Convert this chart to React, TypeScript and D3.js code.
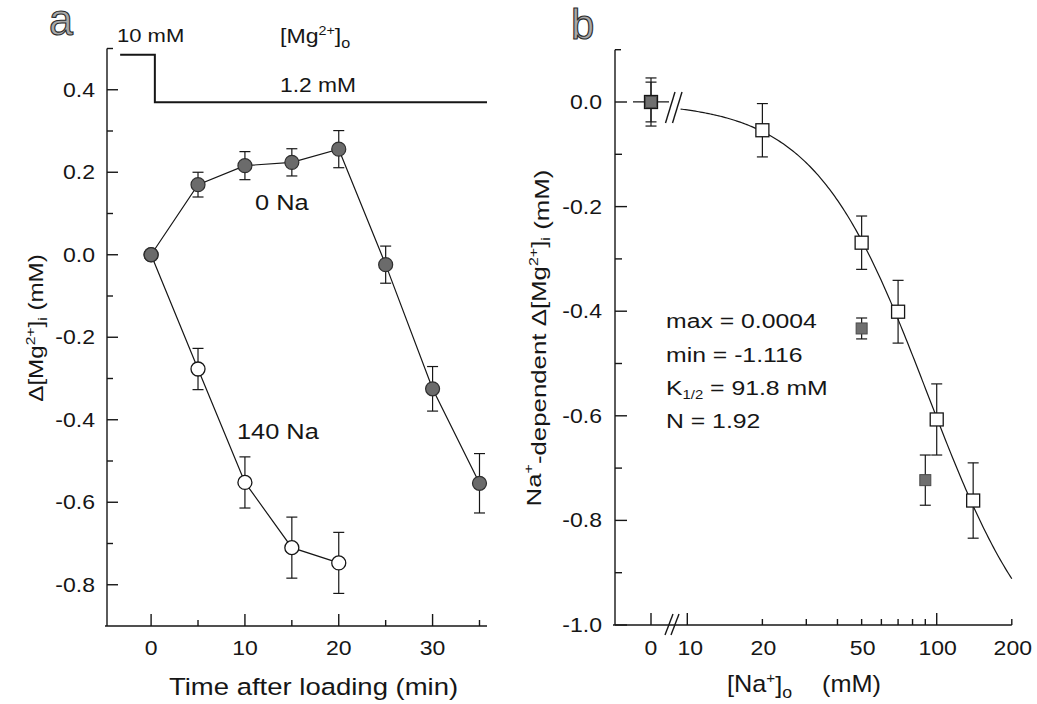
import React from "react";
import * as d3 from "d3";

// ---------- Panel a data ----------
const timeZeroNa = [0, 5, 10, 15, 20, 25, 30, 35];
const mgZeroNa = [0, 0.17, 0.216, 0.224, 0.256, -0.024, -0.325, -0.554];
const errZeroNa = [0, 0.03, 0.034, 0.033, 0.045, 0.045, 0.054, 0.072];
const time140Na = [0, 5, 10, 15, 20];
const mg140Na = [0, -0.277, -0.552, -0.71, -0.747];
const err140Na = [0, 0.05, 0.062, 0.074, 0.074];
const mgTraceTime = [-3.3, 0.4, 0.4, 35.8];
const mgTraceLevel = [0.485, 0.485, 0.37, 0.37];
const aYTicks = [0.4, 0.2, 0.0, -0.2, -0.4, -0.6, -0.8];
const aYMinor = [0.3, 0.1, -0.1, -0.3, -0.5, -0.7];
const aXTicks = [0, 10, 20, 30];
const aXMinor = [5, 15, 25, 35];

// ---------- Panel b data ----------
const naOpen = [0, 20, 50, 70, 100, 140];
const mgOpen = [0.0, -0.054, -0.269, -0.401, -0.607, -0.762];
const errOpen = [0.038, 0.051, 0.051, 0.06, 0.068, 0.072];
const naFilled = [0, 50, 90];
const mgFilled = [0.0, -0.433, -0.723];
const errFilled = [0.046, 0.02, 0.048];
const fitMax = 0.0004;
const fitMin = -1.116;
const fitK = 91.8;
const fitN = 1.92;
const bYTicks = [0.0, -0.2, -0.4, -0.6, -0.8, -1.0];
const bYMinor = [-0.1, -0.3, -0.5, -0.7, -0.9];
const bXMajor = [10, 100];
const bXMinor = [20, 30, 40, 50, 60, 70, 80, 90, 200];
const bXLabels = [10, 20, 50, 100, 200];

const FONT = "'Liberation Sans', Arial, Helvetica, sans-serif";
const INK = "#161616";

function Txt({ x, y, size, sx = 1.18, anchor = "start", rot = 0, children, fill = INK, stroke, sw }: any) {
  return (
    <g transform={`translate(${x},${y}) rotate(${rot}) scale(${sx},1)`}>
      <text fontSize={size} textAnchor={anchor} fill={fill} stroke={stroke} strokeWidth={sw} fontFamily={FONT}>
        {children}
      </text>
    </g>
  );
}

export default function App() {
  // panel a scales
  const xa = d3.scaleLinear().domain([-4.7, 35.8]).range([107, 487]);
  const ya = d3.scaleLinear().domain([-0.9, 0.5]).range([626, 48.5]);
  // panel b scales
  const xbLog = d3.scaleLog().domain([10, 200]).range([687.3, 1011.8]);
  const xbZero = d3.scaleLinear().domain([-5, 5]).range([633, 669]);
  const xb = (v: number) => (v === 0 ? xbZero(0) : xbLog(v));
  const yb = d3.scaleLinear().domain([-1.0, 0.1]).range([625, 49.7]);

  const pathZeroNa = d3.line<number>().x((t) => xa(t)).y((t, i) => ya(mgZeroNa[i]))(timeZeroNa) as string;
  const path140Na = d3.line<number>().x((t) => xa(t)).y((t, i) => ya(mg140Na[i]))(time140Na) as string;
  const pathTrace = d3.line<number>().x((t) => xa(t)).y((t, i) => ya(mgTraceLevel[i]))(mgTraceTime) as string;

  const hill = (c: number) => fitMax + (fitMin - fitMax) * Math.pow(c, fitN) / (Math.pow(fitK, fitN) + Math.pow(c, fitN));
  const curveC = d3.range(0, 201).map((i) => 9.4 * Math.pow(200 / 9.4, i / 200));
  const pathFit = d3.line<number>().x((c) => xbLog(c)).y((c) => yb(hill(c)))(curveC) as string;
  const zeroSeg = d3.line<number>().x((c) => xbZero(c)).y(() => yb(hill(0)))([-5, 5]) as string;

  const ax0 = xa(-4.7);
  const cap = 5.5;

  const errBar = (cx: number, y1: number, y2: number, w: number, key: string) => (
    <g key={key} stroke={INK} strokeWidth={1.2}>
      <line x1={cx} x2={cx} y1={y1} y2={y2} />
      <line x1={cx - w} x2={cx + w} y1={y1} y2={y1} />
      <line x1={cx - w} x2={cx + w} y1={y2} y2={y2} />
    </g>
  );

  return (
    <svg width={1037} height={704} style={{ position: "absolute", left: 0, top: 0, background: "#fff" }} fontFamily={FONT}>
      <rect x={0} y={0} width={1037} height={704} fill="#fff" />
      {/* ================= Panel a ================= */}
      <Txt x={49} y={35} size={44} sx={0.98} fill="#a8a8a8" stroke="#2a2a2a" sw={1.1}>a</Txt>
      {/* axes */}
      <g stroke={INK} strokeWidth={1.4} fill="none">
        <line x1={ax0} x2={ax0} y1={ya(0.5)} y2={ya(-0.9)} />
        <line x1={ax0} x2={ax0 + 6} y1={ya(0.5)} y2={ya(0.5)} />
        <line x1={ax0 - 2} x2={xa(35.8)} y1={ya(-0.9)} y2={ya(-0.9)} />
        {aYTicks.map((v) => <line key={"ayt" + v} x1={ax0} x2={ax0 + 11} y1={ya(v)} y2={ya(v)} />)}
        {aYMinor.map((v) => <line key={"aym" + v} x1={ax0} x2={ax0 + 6} y1={ya(v)} y2={ya(v)} />)}
        {aXTicks.map((v) => <line key={"axt" + v} x1={xa(v)} x2={xa(v)} y1={ya(-0.9)} y2={ya(-0.9) - 12} />)}
        {aXMinor.map((v) => <line key={"axm" + v} x1={xa(v)} x2={xa(v)} y1={ya(-0.9)} y2={ya(-0.9) - 6} />)}
      </g>
      {aYTicks.map((v) => (
        <Txt key={"ayl" + v} x={95} y={ya(v) + 7} size={19.5} anchor="end">{v.toFixed(1)}</Txt>
      ))}
      {aXTicks.map((v) => (
        <Txt key={"axl" + v} x={xa(v)} y={655} size={19.5} anchor="middle">{String(v)}</Txt>
      ))}
      <Txt x={169} y={695} size={23.5} sx={1.17}>Time after loading (min)</Txt>
      <Txt x={43} y={328} size={21} sx={1.15} rot={-90} anchor="middle">
        Δ[Mg<tspan fontSize="0.65em" dy="-0.6em">2+</tspan><tspan dy="0.39em">]</tspan>
        <tspan fontSize="0.65em" dy="0.3em">i</tspan><tspan dy="-0.2em"> (mM)</tspan>
      </Txt>
      {/* Mg trace */}
      <path d={pathTrace} fill="none" stroke={INK} strokeWidth={2} />
      <Txt x={117} y={42} size={19} sx={1.16}>10 mM</Txt>
      <Txt x={280} y={43} size={21} sx={1.1}>
        [Mg<tspan fontSize="0.62em" dy="-0.62em">2+</tspan><tspan dy="0.4em">]</tspan>
        <tspan fontSize="0.7em" dy="0.3em">o</tspan>
      </Txt>
      <Txt x={280} y={92} size={19.5} sx={1.17}>1.2 mM</Txt>
      <Txt x={255} y={210} size={21.5}>0 Na</Txt>
      <Txt x={237} y={439} size={21.5}>140 Na</Txt>
      {/* series lines */}
      <path d={path140Na} fill="none" stroke={INK} strokeWidth={1.2} />
      <path d={pathZeroNa} fill="none" stroke={INK} strokeWidth={1.2} />
      {time140Na.map((t, i) =>
        err140Na[i] > 0 ? errBar(xa(t), ya(mg140Na[i] + err140Na[i]), ya(mg140Na[i] - err140Na[i]), cap, "e140" + i) : null
      )}
      {timeZeroNa.map((t, i) =>
        errZeroNa[i] > 0 ? errBar(xa(t), ya(mgZeroNa[i] + errZeroNa[i]), ya(mgZeroNa[i] - errZeroNa[i]), cap, "e0" + i) : null
      )}
      {time140Na.map((t, i) => (
        <circle key={"c140" + i} cx={xa(t)} cy={ya(mg140Na[i])} r={7} fill="#fff" stroke={INK} strokeWidth={1.3} />
      ))}
      {timeZeroNa.map((t, i) => (
        <circle key={"c0" + i} cx={xa(t)} cy={ya(mgZeroNa[i])} r={7} fill="#6b6b6b" stroke="#2e2e2e" strokeWidth={1.2} />
      ))}

      {/* ================= Panel b ================= */}
      <Txt x={571} y={39} size={42} sx={1} fill="#a8a8a8" stroke="#2a2a2a" sw={1.1}>b</Txt>
      <g stroke={INK} strokeWidth={1.4} fill="none">
        <line x1={615} x2={615} y1={yb(0.1)} y2={yb(-1.0)} />
        <line x1={615} x2={621} y1={yb(0.1)} y2={yb(0.1)} />
        <line x1={613} x2={xbLog(200)} y1={yb(-1.0)} y2={yb(-1.0)} />
        {bYTicks.map((v) => <line key={"byt" + v} x1={615} x2={627} y1={yb(v)} y2={yb(v)} />)}
        {bYMinor.map((v) => <line key={"bym" + v} x1={615} x2={622} y1={yb(v)} y2={yb(v)} />)}
        <line x1={xb(0)} x2={xb(0)} y1={yb(-1.0)} y2={yb(-1.0) - 12} />
        {bXMajor.map((v) => <line key={"bxt" + v} x1={xbLog(v)} x2={xbLog(v)} y1={yb(-1.0)} y2={yb(-1.0) - 12} />)}
        {bXMinor.map((v) => <line key={"bxm" + v} x1={xbLog(v)} x2={xbLog(v)} y1={yb(-1.0)} y2={yb(-1.0) - 6} />)}
      </g>
      {/* axis break marks */}
      <g stroke={INK} strokeWidth={1.4}>
        <line x1={665} x2={673} y1={yb(-1.0) + 10} y2={yb(-1.0) - 11} />
        <line x1={671} x2={679} y1={yb(-1.0) + 10} y2={yb(-1.0) - 11} />
        <line x1={665.5} x2={675} y1={yb(0) + 21} y2={yb(0) - 10} />
        <line x1={672.5} x2={682} y1={yb(0) + 21} y2={yb(0) - 10} />
      </g>
      {bYTicks.map((v) => (
        <Txt key={"byl" + v} x={602} y={yb(v) + 7} size={19.5} anchor="end">{v.toFixed(1)}</Txt>
      ))}
      <Txt x={xb(0)} y={655} size={19.5} anchor="middle">0</Txt>
      {bXLabels.map((v) => (
        <Txt key={"bxl" + v} x={xbLog(v) + (v === 10 ? 3 : 1)} y={655} size={19.5} anchor="middle">{String(v)}</Txt>
      ))}
      <Txt x={727} y={692} size={23} sx={1.1}>
        [Na<tspan fontSize="0.6em" dy="-0.62em">+</tspan><tspan dy="0.4em">]</tspan>
        <tspan fontSize="0.7em" dy="0.32em">o</tspan>
      </Txt>
      <Txt x={822} y={692} size={23} sx={1.1}>(mM)</Txt>
      <Txt x={541} y={338} size={20.5} sx={1.26} rot={-90} anchor="middle">
        Na<tspan fontSize="0.62em" dy="-0.62em">+</tspan><tspan dy="0.62em">-dependent Δ[Mg</tspan>
        <tspan fontSize="0.62em" dy="-0.62em">2+</tspan><tspan dy="0.38em">]</tspan>
        <tspan fontSize="0.65em" dy="0.3em">i</tspan><tspan dy="-0.06em"> (mM)</tspan>
      </Txt>
      <Txt x={666} y={328} size={21}>max = 0.0004</Txt>
      <Txt x={666} y={362} size={21}>min = -1.116</Txt>
      <Txt x={666} y={395} size={21}>
        K<tspan fontSize="0.6em" dy="0.3em">1/2</tspan><tspan dy="-0.18em"> = 91.8 mM</tspan>
      </Txt>
      <Txt x={666} y={428} size={21}>N = 1.92</Txt>
      {/* fit curve */}
      <path d={zeroSeg} fill="none" stroke={INK} strokeWidth={1.2} />
      <path d={pathFit} fill="none" stroke={INK} strokeWidth={1.2} />
      {naOpen.map((c, i) => errBar(xb(c), yb(mgOpen[i] + errOpen[i]), yb(mgOpen[i] - errOpen[i]), 5.5, "bo" + i))}
      {naFilled.map((c, i) => errBar(xb(c), yb(mgFilled[i] + errFilled[i]), yb(mgFilled[i] - errFilled[i]), 5.5, "bf" + i))}
      {naOpen.map((c, i) => (
        <rect key={"so" + i} x={xb(c) - 6.5} y={yb(mgOpen[i]) - 6.5} width={13} height={13} fill="#fff" stroke={INK} strokeWidth={1.3} />
      ))}
      {naFilled.map((c, i) => (
        <rect key={"sf" + i} x={xb(c) - 5.5} y={yb(mgFilled[i]) - 5.5} width={11} height={11} fill="#6f6f6f" stroke="#4a4a4a" strokeWidth={1} />
      ))}
    </svg>
  );
}
